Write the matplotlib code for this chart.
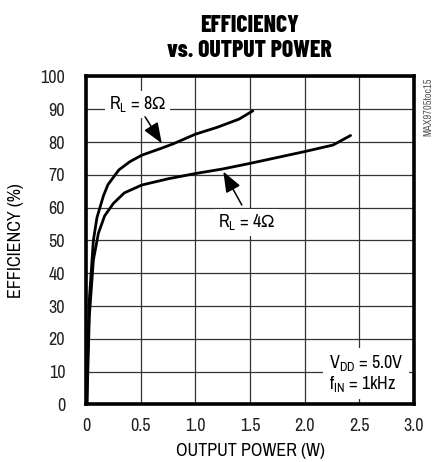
import matplotlib
matplotlib.use("Agg")
import matplotlib.pyplot as plt

# efficiency curves read per load resistance
power_8ohm = [0.008, 0.012, 0.03, 0.067, 0.1, 0.158, 0.2, 0.3, 0.4, 0.51,
              0.68, 0.8, 1.0, 1.2, 1.4, 1.525]
eff_8ohm = [0, 11.5, 32, 50, 57, 63.5, 67, 71.5, 74, 76,
            78, 79.5, 82.4, 84.5, 87, 89.5]

power_4ohm = [0.008, 0.03, 0.067, 0.113, 0.17, 0.25, 0.35, 0.51, 0.75,
              1.0, 1.25, 1.5, 1.75, 2.0, 2.26, 2.42]
eff_4ohm = [0, 26.8, 44, 52.2, 57.5, 61.3, 64.5, 66.9, 68.8,
            70.4, 71.8, 73.5, 75.3, 77.1, 79.1, 82]

x_ticks = [0, 0.5, 1.0, 1.5, 2.0, 2.5, 3.0]
x_tick_labels = ["0", "0.5", "1.0", "1.5", "2.0", "2.5", "3.0"]
y_ticks = list(range(0, 101, 10))

plt.rcParams["font.family"] = ["Archivo Narrow", "DejaVu Sans"]
plt.rcParams["mathtext.fontset"] = "custom"
plt.rcParams["mathtext.rm"] = "Archivo Narrow"
plt.rcParams["mathtext.it"] = "Archivo Narrow"
plt.rcParams["mathtext.fallback"] = "stixsans"

fs = 13

fig = plt.figure(figsize=(4.39, 4.62), dpi=100)
ax = fig.add_axes((0.196, 0.1245, 0.747, 0.71))

ax.set_xlim(0, 3.0)
ax.set_ylim(0, 100)
ax.set_xticks(x_ticks)
ax.set_xticklabels(x_tick_labels)
ax.set_yticks(y_ticks)
ax.tick_params(length=0, labelsize=fs, pad=10, colors="#222222")
ax.tick_params(axis="y", pad=15)
ax.grid(True, color="#333333", linewidth=0.9)
ax.set_axisbelow(True)
for sp in ax.spines.values():
    sp.set_linewidth(2.6)
    sp.set_color("black")

ax.plot(power_8ohm, eff_8ohm, color="black", lw=2.0, solid_capstyle="round")
ax.plot(power_4ohm, eff_4ohm, color="black", lw=2.0, solid_capstyle="round")

# curve labels with white boxes that hide the grid behind them
box = dict(boxstyle="square,pad=0.2", fc="white", ec="none")
arrow = dict(arrowstyle="-|>,head_length=0.9,head_width=0.35",
             color="black", lw=1.1, shrinkA=0, shrinkB=0, mutation_scale=14)
ax.text(0.47, 91.5, r"R$_\mathregular{L}$ = 8$\Omega$", ha="center", va="center",
        fontsize=fs, bbox=box)
ax.annotate("", xy=(0.693, 79.6), xytext=(0.54, 87.7), arrowprops=arrow)
ax.text(1.47, 55.5, r"R$_\mathregular{L}$ = 4$\Omega$", ha="center", va="center",
        fontsize=fs, bbox=box)
ax.annotate("", xy=(1.256, 71.0), xytext=(1.425, 60.8), arrowprops=arrow)

ax.text(2.22, 9.5, "V$_\\mathregular{DD}$ = 5.0V\nf$_\\mathregular{IN}$ = 1kHz",
        ha="left", va="center", fontsize=fs, linespacing=1.05,
        bbox=dict(boxstyle="square,pad=0.3", fc="white", ec="none"))

ax.set_xlabel("OUTPUT POWER (W)", fontsize=fs, labelpad=6)
ax.set_ylabel("EFFICIENCY (%)", fontsize=fs, labelpad=12)

title_font = ["Barlow Condensed", "DejaVu Sans"]
fig.text(0.569, 0.943, "EFFICIENCY", ha="center", va="center",
         fontsize=17, fontweight=800, family=title_font)
fig.text(0.569, 0.889, "vs. OUTPUT POWER", ha="center", va="center",
         fontsize=17, fontweight=800, family=title_font)
fig.text(0.975, 0.769, "MAX9705toc15", rotation=90, ha="center", va="center",
         fontsize=7.5, color="#555555")

fig.savefig("out.png", dpi=100)
